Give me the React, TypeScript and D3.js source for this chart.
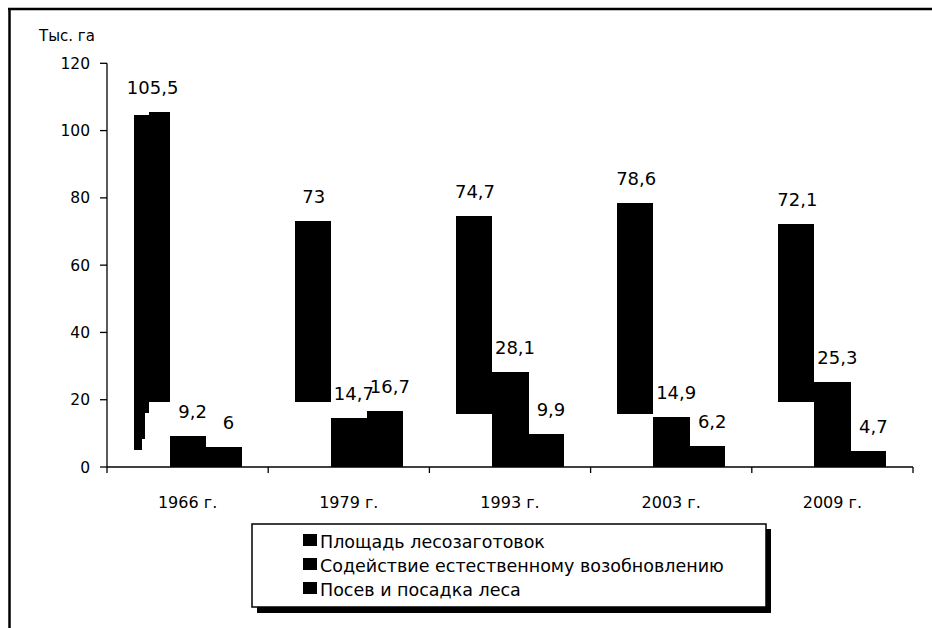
import React from 'react';
import * as d3 from 'd3';

const years = ['1966 г.', '1979 г.', '1993 г.', '2003 г.', '2009 г.'];
const seriesNames = [
  'Площадь лесозаготовок',
  'Содействие естественному возобновлению',
  'Посев и посадка леса',
];
const harvest = [105.5, 73, 74.7, 78.6, 72.1];
const assisted = [9.2, 14.7, 28.1, 14.9, 25.3];
const planting = [6, 16.7, 9.9, 6.2, 4.7];
// bottom edge of the harvest bars as they appear in the source (they float above zero)
const harvestBase = [19.3, 19.3, 15.7, 15.7, 19.3];
// ragged left piece under the 1966 harvest bar
const tail1966 = [16, 8.3, 5];
const leftTop1966 = 104.7;
const yTicks = [0, 20, 40, 60, 80, 100, 120];

const W = 932;
const H = 628;
const font = '"DejaVu Sans", Verdana, sans-serif';

const fmt = (v: number) => String(v).replace('.', ',');

const App = () => {
  const x = d3.scaleBand<string>().domain(years).range([107, 913]).paddingInner(0.33).paddingOuter(0.165);
  const sub = d3.scaleBand<string>().domain(['0', '1', '2']).range([0, x.bandwidth()]);
  const y = d3.scaleLinear().domain([0, 120]).range([467, 63.3]);
  const bw = sub.bandwidth();
  const bounds = d3.range(years.length + 1).map((i) => 107 + i * x.step());

  const tailFrac = [0.42, 0.31, 0.22];

  return (
    <svg width={W} height={H} style={{ position: 'absolute', left: 0, top: 0, background: '#fff' }} fontFamily={font}>
      {/* outer frame, clipped on right and bottom */}
      <line x1={8} x2={W} y1={9} y2={9} stroke="#000" strokeWidth={2.5} />
      <line x1={9.5} x2={9.5} y1={8} y2={H} stroke="#000" strokeWidth={2.5} />

      <text x={39} y={41} fontSize={15}>Тыс. га</text>

      {/* y axis */}
      <line x1={107} x2={107} y1={y(120)} y2={y(0)} stroke="#000" strokeWidth={1.3} />
      {yTicks.map((t) => (
        <g key={t}>
          <line x1={100} x2={107} y1={y(t)} y2={y(t)} stroke="#000" strokeWidth={1.3} />
          <text x={90} y={y(t)} dy="0.36em" textAnchor="end" fontSize={15.5}>{t}</text>
        </g>
      ))}

      {/* x axis */}
      <line x1={107} x2={913} y1={y(0)} y2={y(0)} stroke="#000" strokeWidth={1.3} />
      {bounds.map((b, i) => (
        <line key={i} x1={b} x2={b} y1={y(0)} y2={y(0) + 6} stroke="#000" strokeWidth={1.3} />
      ))}
      {years.map((yr) => (
        <text key={yr} x={(x(yr) as number) + x.bandwidth() / 2} y={508} textAnchor="middle" fontSize={16}>{yr}</text>
      ))}

      {/* harvest bars */}
      <g shapeRendering="crispEdges">
        {years.map((yr, i) => {
          const x0 = (x(yr) as number) + (sub('0') as number);
          if (i === 0) {
            const split = bw * tailFrac[0];
            return (
              <g key={yr}>
                <rect x={x0} y={y(leftTop1966)} width={split + 1} height={y(harvestBase[i]) - y(leftTop1966)} fill="#000" />
                <rect x={x0 + split} y={y(harvest[i])} width={bw - split} height={y(harvestBase[i]) - y(harvest[i])} fill="#000" />
                {tail1966.map((b, k) => (
                  <rect key={k} x={x0} y={y(harvestBase[i]) - 1} width={bw * tailFrac[k]} height={y(b) - y(harvestBase[i]) + 1} fill="#000" />
                ))}
              </g>
            );
          }
          return (
            <rect key={yr} x={x0} y={y(harvest[i])} width={bw} height={y(harvestBase[i]) - y(harvest[i])} fill="#000" />
          );
        })}

        {/* other two series */}
        {[assisted, planting].map((vals, s) =>
          years.map((yr, i) => (
            <rect
              key={`${s}-${yr}`}
              x={(x(yr) as number) + (sub(String(s + 1)) as number)}
              y={y(vals[i])}
              width={bw + (s === 0 ? 0.5 : 0)}
              height={y(0) - y(vals[i])}
              fill="#000"
            />
          ))
        )}
      </g>

      {/* value labels */}
      {[harvest, assisted, planting].map((vals, s) =>
        years.map((yr, i) => (
          <text
            key={`l${s}-${yr}`}
            x={(x(yr) as number) + (sub(String(s)) as number) + bw / 2 + (s === 0 ? 1 : 5)}
            y={y(vals[i]) - 18}
            textAnchor="middle"
            fontSize={18}
          >
            {fmt(vals[i])}
          </text>
        ))
      )}

      {/* legend */}
      <rect x={257} y={529} width={514} height={84} fill="#000" />
      <rect x={252} y={524} width={514} height={83} fill="#fff" stroke="#000" strokeWidth={1.5} />
      {seriesNames.map((n, k) => (
        <g key={n}>
          <rect x={303} y={534 + k * 24} width={14} height={12} fill="#000" />
          <text x={320} y={548 + k * 24} fontSize={17.5}>{n}</text>
        </g>
      ))}
    </svg>
  );
};

export default App;
